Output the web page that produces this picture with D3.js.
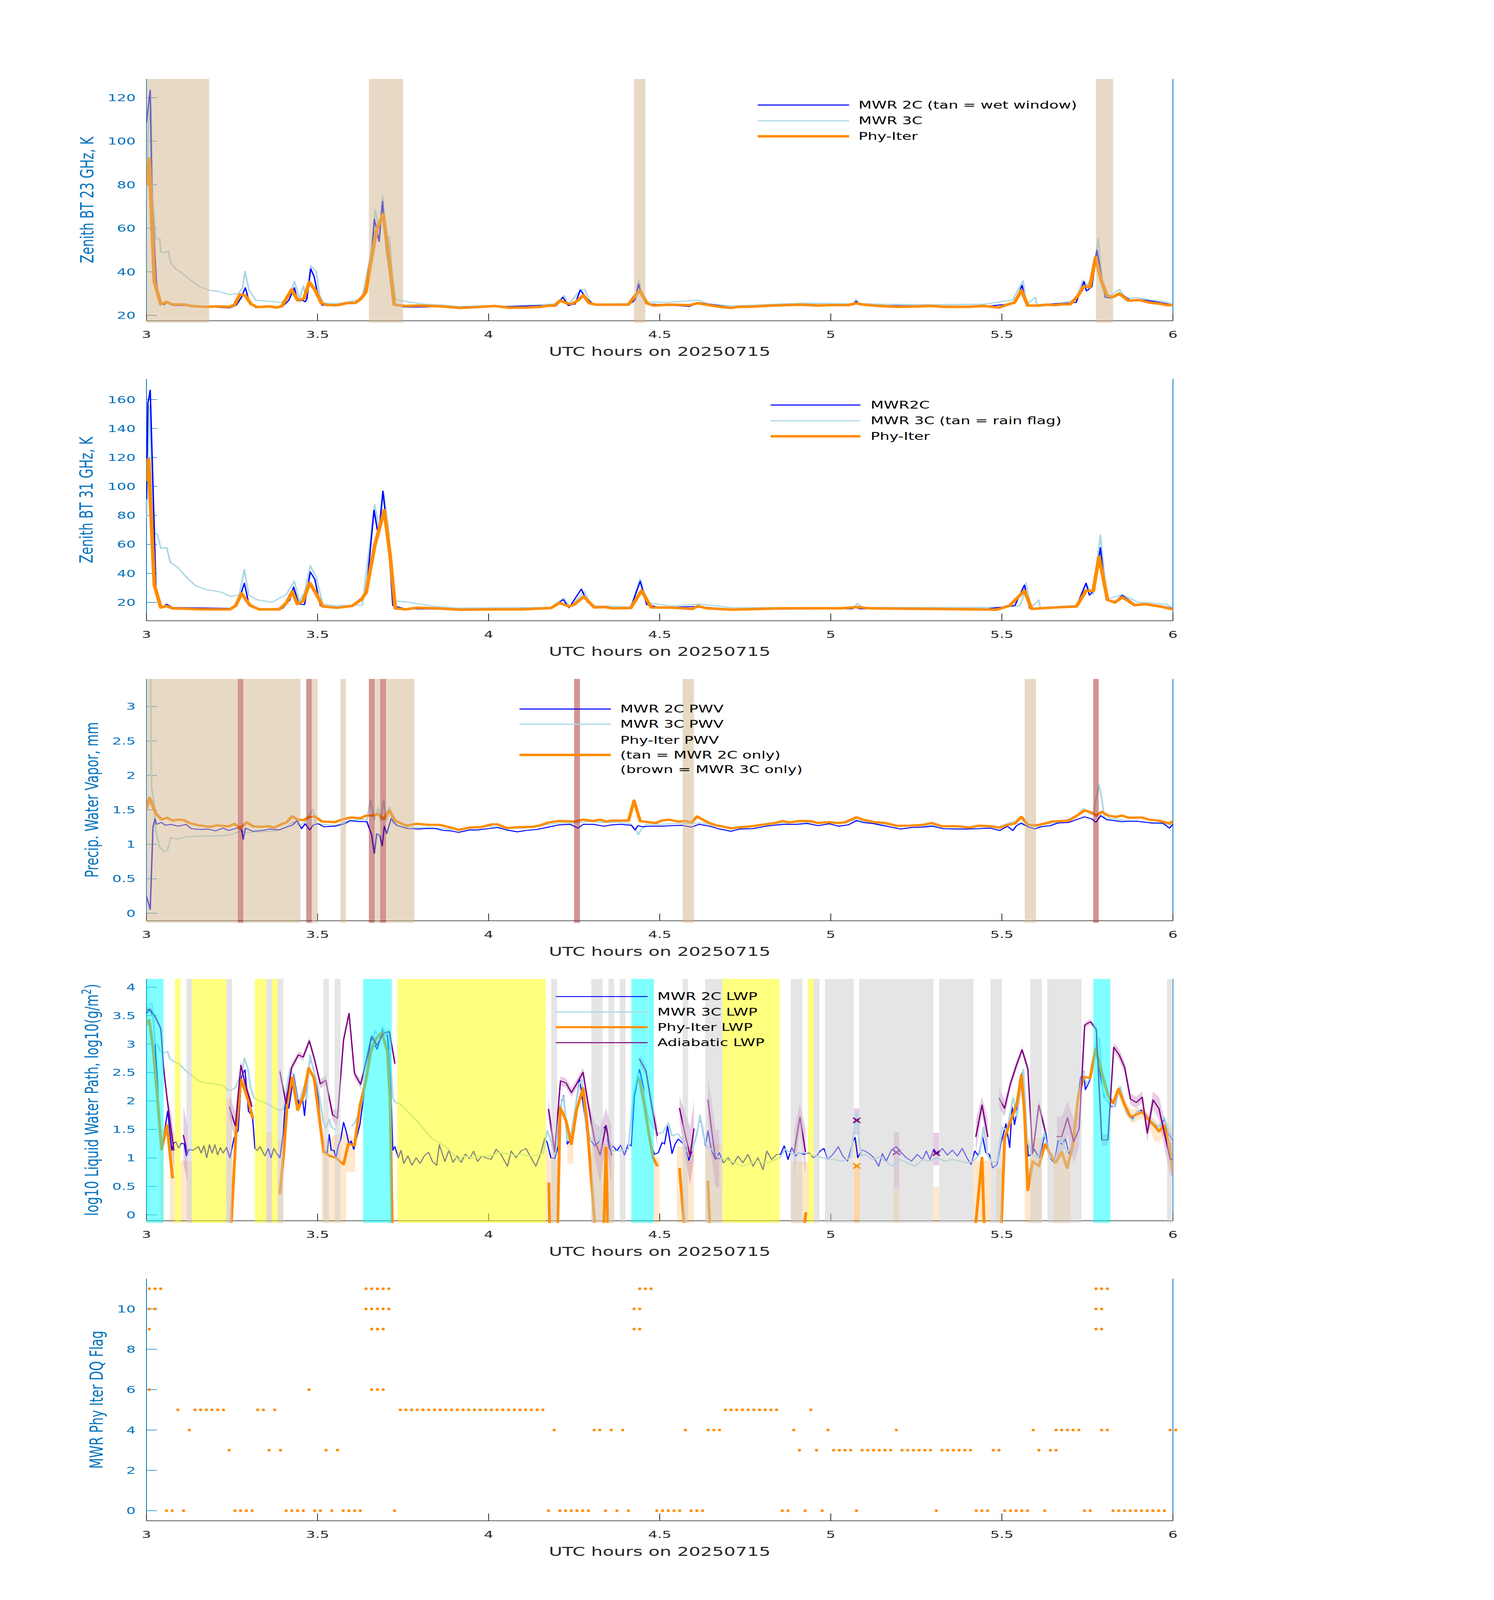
<!DOCTYPE html>
<html>
<head>
<meta charset="utf-8">
<script src="https://cdn.jsdelivr.net/npm/d3@7"></script>
<style>
html, body { margin: 0; padding: 0; background: #fff; overflow: hidden; }
svg { display: block; width: 100vw; height: 100vh; }
</style>
</head>
<body>
<script>
// ---------------- data (hours UTC, value) ----------------
const hourTicks = [3, 3.5, 4, 4.5, 5, 5.5, 6];

// panel 1: zenith BT 23 GHz (K)
const bt23Mwr2c = [[3.000,108.5],[3.011,123.5],[3.016,74],[3.029,35.2],[3.039,25.9],[3.051,24.9],[3.064,26.2],[3.080,24.5],[3.130,24.5],[3.182,23.8],[3.243,23.4],[3.263,24.7],[3.278,28.4],[3.289,32.7],[3.299,26.9],[3.319,23.6],[3.355,23.8],[3.396,23.8],[3.416,26.9],[3.432,32.7],[3.442,26.5],[3.457,26.9],[3.464,26.2],[3.469,27.6],[3.480,41.4],[3.490,37.9],[3.498,31.6],[3.513,24.7],[3.549,24.3],[3.585,25.9],[3.610,25.6],[3.636,30.0],[3.656,43.3],[3.666,64.2],[3.680,53.9],[3.690,72.4],[3.700,51.8],[3.712,38.0],[3.724,24.9],[3.753,23.8],[3.814,23.8],[3.865,24.1],[3.916,23.8],[3.998,24.3],[4.060,24.1],[4.151,24.5],[4.197,24.3],[4.217,28.3],[4.233,24.5],[4.253,25.2],[4.268,31.7],[4.283,28.4],[4.307,24.9],[4.408,24.7],[4.428,27.0],[4.438,34.4],[4.447,29.2],[4.464,25.3],[4.588,24.1],[4.614,25.9],[4.712,23.6],[4.916,24.9],[5.065,24.8],[5.074,26.5],[5.085,24.8],[5.142,24.5],[5.447,24.1],[5.537,25.4],[5.559,33.8],[5.572,24.5],[5.717,25.9],[5.740,35.5],[5.747,31.2],[5.763,33.1],[5.778,50.0],[5.802,28.3],[5.819,27.9],[5.843,30.4],[5.875,27.0],[5.909,27.2],[5.965,25.9],[6.000,24.7]];
const bt23Mwr3c = [[3.000,74],[3.006,108.5],[3.013,116],[3.018,74],[3.027,55.2],[3.039,55.2],[3.042,49.2],[3.054,48.8],[3.064,49.6],[3.071,44.1],[3.085,41.4],[3.105,39.3],[3.131,35.9],[3.156,33.2],[3.182,31.6],[3.212,31.0],[3.243,29.5],[3.268,30.0],[3.281,32.5],[3.288,40.2],[3.299,31.9],[3.319,27.0],[3.355,26.5],[3.396,25.9],[3.416,29.1],[3.433,35.5],[3.447,27.4],[3.459,33.6],[3.467,27.0],[3.480,42.8],[3.496,40.2],[3.506,29.1],[3.518,25.6],[3.559,25.4],[3.600,26.5],[3.630,27.4],[3.656,48.3],[3.669,68.5],[3.680,58.1],[3.690,75.0],[3.702,55.2],[3.710,56.0],[3.720,35.9],[3.728,27.4],[3.753,26.5],[3.814,25.1],[3.865,24.7],[3.916,24.0],[3.998,24.5],[4.060,24.1],[4.151,24.9],[4.197,25.3],[4.220,29.1],[4.233,24.9],[4.268,31.6],[4.281,32.0],[4.299,25.1],[4.408,25.4],[4.430,28.3],[4.439,36.2],[4.450,27.9],[4.466,26.2],[4.521,25.9],[4.614,27.0],[4.640,25.2],[4.712,24.3],[4.916,25.6],[5.065,25.3],[5.074,27.2],[5.085,25.4],[5.142,25.1],[5.300,24.9],[5.447,25.1],[5.531,27.0],[5.562,35.9],[5.572,24.9],[5.598,28.3],[5.602,24.9],[5.672,25.6],[5.717,27.2],[5.737,36.2],[5.750,33.6],[5.767,39.6],[5.782,55.2],[5.795,31.9],[5.812,28.3],[5.843,31.9],[5.863,27.9],[5.897,28.1],[5.937,27.0],[5.971,26.5],[6.000,25.3]];
const bt23PhyIter = [[3.000,80],[3.008,92],[3.023,35.5],[3.042,25.1],[3.059,26.2],[3.074,25.0],[3.110,25.0],[3.130,24.3],[3.171,23.9],[3.207,24.1],[3.243,23.9],[3.258,24.9],[3.273,29.6],[3.289,29.1],[3.306,25.1],[3.324,23.8],[3.360,24.1],[3.380,23.6],[3.396,24.3],[3.424,31.8],[3.442,26.9],[3.460,27.7],[3.476,35.3],[3.493,31.6],[3.511,25.6],[3.529,24.7],[3.559,24.7],[3.585,25.6],[3.610,25.7],[3.626,27.5],[3.641,30.6],[3.656,44.9],[3.673,59.5],[3.692,66.4],[3.707,48.3],[3.724,24.9],[3.758,24.3],[3.794,24.5],[3.865,24.1],[3.916,23.4],[3.967,23.8],[4.018,24.3],[4.060,23.5],[4.110,23.6],[4.151,23.9],[4.177,24.5],[4.192,24.4],[4.209,26.8],[4.228,25.6],[4.243,25.2],[4.258,26.5],[4.277,29.2],[4.294,25.6],[4.314,24.9],[4.352,24.9],[4.408,24.9],[4.425,28.4],[4.442,31.5],[4.462,25.6],[4.482,24.5],[4.527,24.9],[4.588,24.7],[4.611,25.6],[4.645,24.7],[4.668,24.1],[4.707,23.4],[4.730,23.9],[4.770,24.0],[4.826,24.5],[4.871,24.7],[4.916,24.9],[4.961,24.5],[4.995,24.7],[5.051,24.7],[5.074,25.6],[5.097,24.9],[5.142,24.3],[5.198,23.9],[5.255,24.1],[5.289,24.3],[5.334,23.9],[5.402,23.9],[5.447,24.3],[5.492,23.6],[5.515,24.9],[5.537,25.9],[5.557,31.5],[5.576,24.5],[5.610,24.5],[5.633,24.9],[5.655,24.7],[5.678,25.1],[5.700,25.1],[5.723,29.1],[5.740,33.4],[5.757,32.9],[5.774,46.6],[5.790,36.3],[5.807,29.1],[5.824,28.3],[5.843,30.0],[5.869,26.8],[5.903,27.0],[5.931,25.9],[5.965,25.3],[5.982,24.7],[6.000,24.7]];
const wetWindowSpans = [[3.0,3.183],[3.65,3.75],[4.425,4.458],[5.775,5.825]];

// panel 2: zenith BT 31 GHz (K)
const bt31Mwr2c = [[3.000,91.4],[3.004,157.2],[3.011,166.5],[3.017,117.2],[3.028,28.1],[3.044,16.3],[3.059,18.8],[3.076,16.5],[3.250,15.9],[3.271,21.7],[3.286,33.3],[3.299,19.1],[3.330,15.5],[3.398,15.9],[3.419,21.7],[3.430,30.7],[3.445,18.8],[3.462,18.5],[3.479,41.0],[3.492,35.9],[3.508,17.8],[3.557,15.9],[3.600,17.8],[3.642,25.5],[3.665,83.6],[3.678,65.5],[3.691,96.8],[3.706,65.5],[3.720,17.8],[3.758,15.5],[4.013,15.2],[4.182,16.3],[4.218,21.9],[4.235,16.3],[4.271,29.2],[4.288,20.4],[4.309,16.5],[4.415,15.9],[4.443,34.6],[4.462,18.5],[4.500,16.5],[4.606,17.2],[4.712,15.2],[5.062,15.6],[5.072,16.5],[5.085,15.6],[5.453,15.5],[5.538,17.8],[5.566,32.0],[5.581,15.9],[5.718,17.2],[5.746,33.3],[5.756,24.9],[5.771,28.8],[5.788,57.8],[5.805,21.7],[5.830,20.4],[5.852,24.9],[5.888,18.8],[5.962,17.8],[6.000,15.9]];
const bt31Mwr3c = [[3.000,78.5],[3.008,155.9],[3.015,117.2],[3.023,68.1],[3.032,66.8],[3.042,57.2],[3.059,57.8],[3.070,47.5],[3.091,44.3],[3.112,38.5],[3.144,31.4],[3.176,28.8],[3.218,27.1],[3.244,24.3],[3.271,24.9],[3.286,42.6],[3.299,24.9],[3.324,21.7],[3.367,20.1],[3.409,25.5],[3.432,34.8],[3.447,20.4],[3.462,26.8],[3.479,45.2],[3.496,37.2],[3.515,18.8],[3.547,17.8],[3.631,18.1],[3.667,87.5],[3.680,69.4],[3.693,95.5],[3.708,68.1],[3.722,21.0],[3.758,20.4],[3.843,17.2],[3.907,16.1],[4.013,16.3],[4.182,16.5],[4.220,23.0],[4.237,16.8],[4.280,27.5],[4.299,17.8],[4.415,16.8],[4.443,36.1],[4.464,19.7],[4.532,17.5],[4.617,18.8],[4.712,16.3],[5.068,16.5],[5.078,19.4],[5.093,16.5],[5.496,16.5],[5.552,17.6],[5.560,22.0],[5.570,33.3],[5.585,16.5],[5.608,21.7],[5.612,16.5],[5.718,17.8],[5.746,32.6],[5.767,25.5],[5.788,66.5],[5.807,22.3],[5.852,25.3],[5.898,20.1],[5.977,18.8],[6.000,16.5]];
const bt31PhyIter = [[3.000,104.3],[3.006,118.8],[3.023,32.0],[3.042,16.5],[3.059,17.5],[3.076,15.9],[3.165,15.2],[3.244,15.2],[3.261,17.8],[3.278,26.2],[3.303,17.8],[3.330,15.2],[3.388,15.2],[3.409,19.7],[3.426,27.5],[3.441,18.8],[3.458,21.0],[3.477,33.5],[3.494,26.8],[3.515,17.2],[3.557,16.3],[3.600,17.5],[3.627,21.7],[3.642,26.8],[3.667,59.1],[3.695,83.6],[3.712,52.6],[3.727,15.9],[3.758,15.2],[3.790,16.3],[3.843,15.9],[3.917,15.0],[4.013,15.2],[4.097,15.2],[4.182,16.1],[4.207,19.7],[4.235,17.2],[4.250,18.5],[4.278,24.0],[4.309,16.5],[4.341,16.8],[4.362,15.9],[4.415,16.1],[4.447,28.1],[4.475,16.5],[4.542,16.3],[4.595,15.5],[4.612,17.5],[4.638,15.9],[4.712,15.0],[4.860,15.9],[5.030,15.9],[5.078,16.8],[5.114,15.9],[5.284,15.5],[5.432,15.2],[5.485,15.0],[5.523,17.8],[5.566,28.1],[5.587,15.5],[5.655,16.5],[5.718,17.2],[5.746,28.1],[5.767,27.9],[5.784,51.4],[5.809,21.7],[5.830,20.0],[5.852,23.6],[5.888,18.1],[5.919,18.8],[5.962,17.2],[6.000,15.2]];

// panel 3: precipitable water vapour (mm)
const pwvMwr2c = [[3.000,0.244],[3.011,0.054],[3.019,1.249],[3.025,1.371],[3.029,1.29],[3.044,1.317],[3.055,1.276],[3.071,1.29],[3.093,1.263],[3.115,1.29],[3.131,1.227],[3.158,1.214],[3.180,1.222],[3.202,1.195],[3.224,1.235],[3.240,1.2],[3.265,1.235],[3.278,1.216],[3.283,1.072],[3.289,1.235],[3.311,1.189],[3.338,1.2],[3.360,1.222],[3.388,1.208],[3.409,1.249],[3.426,1.276],[3.440,1.344],[3.453,1.227],[3.464,1.298],[3.477,1.208],[3.488,1.282],[3.502,1.298],[3.519,1.254],[3.551,1.263],[3.579,1.298],[3.595,1.344],[3.622,1.33],[3.644,1.33],[3.658,1.14],[3.666,0.869],[3.673,1.154],[3.682,1.127],[3.689,0.977],[3.695,1.263],[3.702,1.154],[3.715,1.371],[3.731,1.276],[3.764,1.227],[3.797,1.222],[3.824,1.23],[3.846,1.227],[3.868,1.2],[3.890,1.195],[3.912,1.173],[3.944,1.208],[3.966,1.208],[3.999,1.227],[4.026,1.244],[4.053,1.208],[4.084,1.181],[4.108,1.2],[4.141,1.216],[4.174,1.249],[4.206,1.282],[4.239,1.29],[4.261,1.235],[4.277,1.29],[4.305,1.29],[4.338,1.263],[4.359,1.282],[4.386,1.29],[4.417,1.276],[4.428,1.208],[4.437,1.271],[4.450,1.254],[4.472,1.263],[4.505,1.263],[4.538,1.271],[4.565,1.276],[4.593,1.249],[4.615,1.29],[4.647,1.263],[4.674,1.222],[4.691,1.208],[4.708,1.189],[4.734,1.222],[4.772,1.227],[4.811,1.263],[4.844,1.282],[4.866,1.29],[4.899,1.29],[4.931,1.303],[4.963,1.271],[4.996,1.298],[5.023,1.263],[5.051,1.282],[5.075,1.344],[5.094,1.317],[5.122,1.303],[5.149,1.276],[5.182,1.244],[5.204,1.222],[5.237,1.244],[5.269,1.249],[5.297,1.263],[5.329,1.227],[5.362,1.222],[5.400,1.222],[5.433,1.227],[5.466,1.235],[5.494,1.2],[5.516,1.263],[5.532,1.2],[5.543,1.271],[5.557,1.309],[5.576,1.254],[5.596,1.222],[5.614,1.254],[5.642,1.271],[5.664,1.309],[5.696,1.317],[5.718,1.358],[5.741,1.398],[5.762,1.371],[5.775,1.317],[5.789,1.417],[5.806,1.358],[5.828,1.344],[5.850,1.33],[5.894,1.336],[5.937,1.309],[5.970,1.309],[5.990,1.235],[6.000,1.29]];
const pwvMwr3c = [[3.000,3.6],[3.012,3.4],[3.015,1.82],[3.022,1.6],[3.027,1.195],[3.038,0.964],[3.051,0.891],[3.062,0.923],[3.071,1.1],[3.087,1.072],[3.115,1.108],[3.158,1.119],[3.202,1.119],[3.246,1.14],[3.278,1.195],[3.289,1.173],[3.333,1.181],[3.377,1.195],[3.409,1.249],[3.429,1.33],[3.448,1.263],[3.464,1.33],[3.478,1.444],[3.486,1.507],[3.495,1.303],[3.513,1.29],[3.551,1.271],[3.584,1.33],[3.617,1.358],[3.644,1.358],[3.655,1.643],[3.666,1.358],[3.677,1.534],[3.684,1.344],[3.693,1.643],[3.702,1.344],[3.710,1.542],[3.721,1.303],[3.748,1.249],[3.791,1.244],[3.835,1.244],[3.890,1.216],[3.944,1.227],[3.999,1.263],[4.053,1.235],[4.108,1.235],[4.163,1.282],[4.206,1.309],[4.250,1.309],[4.294,1.33],[4.338,1.317],[4.381,1.317],[4.414,1.303],[4.430,1.208],[4.438,1.14],[4.445,1.208],[4.461,1.29],[4.505,1.29],[4.560,1.303],[4.593,1.309],[4.625,1.309],[4.669,1.263],[4.713,1.244],[4.778,1.271],[4.844,1.303],[4.909,1.322],[4.974,1.309],[5.040,1.309],[5.073,1.358],[5.106,1.317],[5.171,1.282],[5.237,1.263],[5.302,1.271],[5.368,1.249],[5.433,1.254],[5.488,1.249],[5.532,1.33],[5.554,1.29],[5.587,1.244],[5.630,1.29],[5.674,1.33],[5.718,1.412],[5.738,1.52],[5.757,1.439],[5.768,1.439],[5.775,1.656],[5.784,1.86],[5.792,1.656],[5.800,1.385],[5.828,1.371],[5.871,1.344],[5.926,1.317],[5.970,1.303],[6.000,1.276]];
const pwvPhyIter = [[3.000,1.52],[3.009,1.675],[3.027,1.45],[3.044,1.36],[3.060,1.385],[3.076,1.344],[3.093,1.358],[3.109,1.352],[3.126,1.309],[3.153,1.276],[3.186,1.254],[3.207,1.276],[3.240,1.26],[3.257,1.298],[3.273,1.235],[3.293,1.317],[3.311,1.263],[3.333,1.254],[3.355,1.263],[3.374,1.244],[3.393,1.29],[3.409,1.317],[3.426,1.406],[3.442,1.358],[3.459,1.35],[3.475,1.396],[3.492,1.406],[3.513,1.33],[3.551,1.322],[3.573,1.363],[3.600,1.39],[3.626,1.379],[3.642,1.417],[3.660,1.417],[3.677,1.439],[3.693,1.363],[3.710,1.493],[3.726,1.344],[3.759,1.271],[3.791,1.298],[3.824,1.282],[3.857,1.282],[3.890,1.244],[3.912,1.208],[3.944,1.244],[3.977,1.249],[4.010,1.29],[4.026,1.29],[4.053,1.235],[4.086,1.249],[4.130,1.254],[4.152,1.276],[4.174,1.317],[4.206,1.339],[4.250,1.33],[4.277,1.358],[4.305,1.339],[4.326,1.358],[4.343,1.33],[4.359,1.344],[4.409,1.344],[4.425,1.635],[4.443,1.336],[4.467,1.322],[4.489,1.309],[4.505,1.344],[4.527,1.358],[4.554,1.33],[4.576,1.339],[4.593,1.317],[4.609,1.404],[4.636,1.33],[4.663,1.276],[4.689,1.254],[4.710,1.23],[4.734,1.249],[4.761,1.257],[4.800,1.284],[4.838,1.309],[4.860,1.339],[4.878,1.317],[4.909,1.339],[4.942,1.336],[4.963,1.309],[4.996,1.322],[5.018,1.309],[5.040,1.317],[5.075,1.393],[5.094,1.358],[5.127,1.322],[5.160,1.309],[5.193,1.268],[5.231,1.271],[5.269,1.282],[5.295,1.309],[5.324,1.263],[5.368,1.263],[5.406,1.244],[5.434,1.271],[5.467,1.263],[5.494,1.241],[5.516,1.282],[5.538,1.303],[5.557,1.398],[5.576,1.282],[5.603,1.276],[5.647,1.33],[5.696,1.344],[5.718,1.412],[5.743,1.493],[5.762,1.461],[5.776,1.417],[5.792,1.472],[5.811,1.417],[5.833,1.398],[5.851,1.417],[5.871,1.385],[5.909,1.39],[5.931,1.358],[5.958,1.344],[5.991,1.303],[6.000,1.336]];
const mwr2cOnlySpans = [[3.0,3.267],[3.283,3.45],[3.483,3.5],[3.567,3.583],[3.667,3.683],[3.7,3.783],[4.567,4.6],[5.567,5.6]];
const mwr3cOnlySpans = [[3.267,3.283],[3.467,3.483],[3.65,3.667],[3.683,3.7],[4.25,4.267],[5.767,5.783]];

// panel 4: log10 liquid water path (null = gap)
const lwpMwr2c = [[3.000,3.533],[3.010,3.615],[3.020,3.468],[3.032,2.383],[3.040,1.331],[3.044,1.134],[3.062,1.824],[3.074,1.134],[3.080,1.265],[3.086,1.282],[3.094,1.173],[3.102,1.259],[3.110,1.249],[3.117,1.035],[3.124,1.15],[3.136,1.134],[3.144,1.167],[3.152,1.2],[3.160,1.085],[3.168,1.216],[3.176,1.002],[3.184,1.233],[3.192,1.085],[3.200,1.233],[3.208,1.052],[3.216,1.183],[3.224,1.085],[3.234,1.183],[3.244,1.002],[3.256,1.348],[3.268,1.479],[3.278,2.449],[3.288,2.547],[3.298,1.824],[3.310,1.726],[3.317,1.167],[3.324,1.134],[3.332,1.2],[3.340,1.101],[3.346,1.035],[3.356,1.167],[3.364,1.002],[3.372,1.167],[3.380,1.085],[3.390,1.002],[3.400,1.446],[3.408,2.186],[3.416,1.873],[3.424,2.186],[3.430,2.465],[3.438,2.186],[3.446,1.923],[3.454,2.153],[3.462,1.742],[3.468,2.153],[3.478,2.744],[3.488,2.58],[3.500,2.186],[3.512,1.397],[3.520,1.118],[3.528,1.085],[3.534,1.413],[3.540,1.134],[3.548,1.134],[3.554,1.002],[3.560,1.2],[3.568,1.331],[3.576,1.627],[3.584,1.463],[3.592,1.233],[3.598,1.298],[3.606,1.15],[3.616,1.397],[3.624,1.594],[3.640,2.317],[3.656,3.106],[3.674,2.909],[3.692,3.27],[3.704,3.139],[3.712,2.646],[3.720,1.134],[3.726,1.2],[3.736,1.002],[3.744,1.134],[3.752,0.904],[3.764,1.035],[3.776,0.871],[3.788,1.002],[3.800,0.904],[3.812,1.035],[3.824,1.101],[3.836,0.937],[3.848,0.871],[3.856,1.233],[3.864,1.085],[3.872,0.937],[3.884,1.134],[3.896,0.92],[3.908,1.035],[3.920,0.92],[3.932,1.068],[3.944,0.986],[3.956,1.118],[3.968,0.937],[3.980,1.035],[3.992,1.002],[4.007,0.973],[4.022,1.152],[4.036,1.062],[4.055,0.853],[4.066,1.122],[4.080,1.003],[4.095,1.122],[4.109,1.167],[4.124,1.003],[4.138,0.853],[4.153,1.092],[4.164,1.346],[4.171,1.272],[4.182,1.003],[4.193,0.988],[4.200,1.122],[4.209,1.9],[4.219,2.094],[4.230,1.242],[4.237,1.302],[4.246,1.421],[4.255,1.959],[4.266,2.377],[4.276,1.959],[4.288,1.421],[4.299,1.302],[4.310,1.212],[4.321,1.272],[4.332,1.481],[4.343,1.571],[4.353,1.152],[4.364,1.212],[4.375,1.122],[4.386,1.227],[4.397,1.048],[4.408,1.242],[4.417,1.212],[4.426,2.079],[4.441,2.557],[4.452,2.258],[4.463,1.66],[4.474,1.242],[4.485,1.062],[4.496,1.092],[4.507,1.272],[4.514,1.242],[4.523,1.556],[4.536,1.077],[4.545,1.242],[4.554,1.332],[4.565,1.272],[4.576,1.182],[4.585,0.958],[4.594,1.122],[4.605,1.332],[4.616,1.66],[4.623,1.6],[4.634,1.212],[4.641,1.481],[4.650,1.152],[4.663,0.973],[4.674,1.092],[4.686,0.913],[4.700,1.003],[4.714,0.883],[4.729,1.033],[4.743,0.913],[4.758,1.062],[4.773,0.853],[4.787,1.003],[4.802,0.793],[4.813,1.122],[4.827,0.973],[4.842,1.062],[4.853,1.062],[4.864,1.212],[4.875,0.973],[4.886,1.182],[4.897,1.033],[4.907,1.092],[4.922,1.062],[4.937,1.092],[4.948,1.003],[4.958,1.033],[4.969,1.122],[4.980,1.167],[4.991,0.973],[5.006,1.062],[5.022,1.197],[5.035,1.033],[5.049,0.943],[5.064,1.272],[5.071,1.362],[5.079,1.003],[5.090,1.137],[5.100,1.122],[5.115,1.062],[5.126,1.003],[5.140,0.853],[5.151,1.077],[5.162,0.943],[5.177,1.137],[5.191,1.197],[5.206,1.092],[5.221,1.003],[5.236,0.943],[5.253,1.062],[5.268,0.973],[5.279,1.122],[5.290,0.973],[5.301,1.152],[5.311,1.062],[5.326,1.167],[5.341,1.048],[5.355,1.137],[5.370,1.033],[5.384,1.167],[5.399,0.988],[5.410,0.883],[5.421,1.122],[5.432,1.033],[5.443,1.391],[5.453,1.092],[5.464,1.062],[5.473,0.823],[5.486,0.883],[5.497,1.242],[5.512,1.6],[5.523,1.182],[5.530,1.9],[5.537,1.585],[5.544,1.81],[5.552,2.377],[5.560,2.497],[5.570,1.6],[5.577,1.033],[5.588,1.062],[5.595,1.152],[5.603,1.062],[5.610,1.003],[5.621,1.302],[5.628,1.451],[5.639,1.003],[5.654,0.913],[5.664,1.302],[5.675,1.242],[5.686,1.332],[5.697,1.062],[5.708,1.302],[5.719,1.9],[5.730,2.407],[5.739,2.527],[5.744,2.198],[5.756,2.347],[5.766,2.616],[5.777,2.945],[5.788,2.437],[5.799,2.079],[5.810,1.99],[5.821,1.9],[5.830,1.9],[5.843,2.198],[5.854,2.049],[5.868,1.81],[5.883,1.69],[5.894,1.81],[5.908,1.84],[5.923,1.75],[5.941,1.6],[5.959,1.541],[5.975,1.69],[5.988,1.421],[6.000,1.302]];
const lwpMwr3c = [[3.000,3.665],[3.010,3.698],[3.016,3.73],[3.024,3.007],[3.032,3.007],[3.040,2.876],[3.052,2.843],[3.062,2.87],[3.068,2.744],[3.080,2.695],[3.096,2.646],[3.112,2.547],[3.136,2.432],[3.152,2.35],[3.176,2.317],[3.200,2.301],[3.224,2.268],[3.236,2.202],[3.248,2.186],[3.260,2.235],[3.272,2.416],[3.280,2.498],[3.286,2.754],[3.296,2.58],[3.304,2.251],[3.314,2.054],[3.328,2.005],[3.352,1.956],[3.376,1.873],[3.390,1.841],[3.400,1.857],[3.412,2.317],[3.420,2.58],[3.428,2.449],[3.440,2.054],[3.448,2.021],[3.460,2.251],[3.468,2.021],[3.478,2.81],[3.488,2.547],[3.500,2.284],[3.508,1.989],[3.516,1.66],[3.524,1.528],[3.534,1.676],[3.540,1.545],[3.552,1.495],null,[3.600,1.561],[3.608,1.61],[3.624,1.824],[3.640,2.317],[3.656,2.909],[3.668,3.237],[3.680,3.106],[3.690,3.303],[3.700,3.172],[3.708,3.205],[3.714,2.646],[3.720,2.054],[3.728,1.972],[3.740,1.956],[3.760,1.841],[3.784,1.693],[3.808,1.528],[3.832,1.348],[3.856,1.265],[3.880,1.167],[3.896,1.068],[3.912,0.953],[3.928,1.035],[3.952,1.002],[3.976,1.035],[4.007,1.033],[4.029,1.092],[4.051,1.077],[4.073,1.048],[4.095,1.062],[4.117,1.033],[4.138,1.048],[4.160,1.077],[4.171,1.481],[4.182,1.302],[4.193,1.062],[4.204,1.332],[4.213,2.019],[4.220,2.079],[4.230,1.302],[4.241,1.421],[4.254,1.9],[4.266,2.318],[4.273,2.377],[4.284,1.6],[4.299,1.302],[4.321,1.302],[4.335,1.511],[4.346,1.421],[4.361,1.122],[4.386,1.122],[4.408,1.152],[4.423,2.109],[4.437,2.497],[4.452,2.168],[4.466,1.72],[4.481,1.541],[4.496,1.421],[4.510,1.451],[4.525,1.615],[4.536,1.391],[4.554,1.421],[4.565,1.332],[4.576,1.122],[4.594,1.122],[4.609,1.421],[4.618,1.75],[4.627,1.421],[4.638,1.182],[4.652,1.152],[4.671,1.003],[4.707,0.943],[4.743,0.853],[4.780,0.943],[4.816,0.913],[4.851,1.003],[4.867,1.152],[4.889,1.062],[4.918,1.092],[4.948,1.048],[4.977,1.003],[5.006,0.973],[5.035,0.943],[5.057,1.003],[5.068,1.451],[5.075,1.81],[5.082,1.332],[5.090,1.033],[5.100,1.062],[5.122,0.973],[5.144,1.018],[5.166,0.913],[5.180,0.853],[5.202,0.973],[5.224,0.913],[5.246,0.853],[5.268,0.973],[5.290,0.943],[5.311,1.003],[5.333,0.943],[5.355,0.973],[5.377,0.943],[5.399,0.913],[5.417,0.943],[5.435,1.062],[5.446,1.541],[5.457,1.062],[5.472,0.913],[5.486,0.943],[5.501,1.541],[5.515,1.481],[5.533,2.064],[5.544,1.72],[5.555,2.198],[5.563,2.557],[5.574,1.302],[5.588,1.062],[5.606,1.003],[5.624,1.451],[5.639,1.003],[5.657,0.973],[5.672,1.362],[5.690,1.092],[5.708,1.242],[5.719,1.84],[5.737,2.527],[5.748,2.288],[5.763,2.497],[5.777,3.124],[5.785,3.094],[5.795,2.198],[5.805,2.019],[5.817,1.929],[5.828,1.9],[5.846,2.258],[5.865,1.78],[5.883,1.66],[5.897,1.84],[5.916,1.78],[5.937,1.66],[5.959,1.541],[5.974,1.72],[5.988,1.451],[6.000,1.332]];
const lwpPhyIter = [[3.000,3.336],[3.008,3.428],[3.020,2.876],[3.032,2.054],[3.044,1.15],[3.060,1.578],[3.076,0.657],null,[3.248,-0.13],[3.262,1.463],[3.276,2.383],[3.288,2.186],[3.300,1.956],[3.310,1.709],null,[3.390,0.378],[3.400,1.002],[3.412,1.989],[3.426,2.416],[3.442,1.841],[3.458,2.071],[3.474,2.58],[3.490,2.399],[3.504,1.758],[3.518,1.101],[3.536,1.035],[3.554,1.002],[3.566,0.937],[3.576,0.887],[3.590,1.249],[3.608,1.216],[3.624,1.923],[3.640,2.317],[3.656,2.876],[3.672,3.106],[3.688,3.205],[3.704,2.876],[3.712,2.021],[3.718,-0.13],null,[4.176,0.554],[4.178,-0.13],null,[4.202,-0.13],[4.209,1.884],[4.226,1.66],[4.242,1.242],[4.257,1.84],[4.276,2.228],[4.288,1.6],[4.299,0.704],[4.310,-0.13],null,[4.337,-0.13],[4.343,1.182],[4.348,-0.13],null,[4.441,2.377],[4.456,1.9],[4.470,1.362],[4.481,1.003],[4.492,0.868],null,[4.558,0.808],[4.571,-0.13],null,[4.641,0.584],[4.646,-0.13],null,[4.924,-0.13],[4.927,0.031],null,[5.424,-0.13],[5.442,1.003],[5.448,-0.13],null,[5.499,-0.13],[5.508,1.346],[5.528,1.69],[5.544,1.959],[5.557,2.452],[5.566,1.81],[5.576,0.435],[5.590,0.943],[5.608,0.853],[5.626,1.242],[5.657,0.913],[5.675,1.107],[5.691,0.823],[5.708,1.242],[5.723,2.079],[5.739,2.422],[5.758,2.407],[5.774,2.916],[5.792,2.497],[5.810,2.109],[5.825,1.959],[5.841,2.213],[5.859,1.929],[5.876,1.72],[5.894,1.765],[5.911,1.81],[5.930,1.66],[5.945,1.57],[5.959,1.466],[5.974,1.57],[5.988,1.272],[6.000,0.75]];
// Phy-Iter uncertainty: [hour, low, high]
const lwpPhyIterBand = [[3.038,-0.2,1.5],[3.050,-0.2,1.5],null,[3.068,-0.2,1.43],[3.083,-0.2,1.43],null,[3.100,-0.2,0.95],[3.133,-0.2,0.95],null,[3.233,-0.2,2.05],[3.250,-0.2,2.05],null,[3.350,-0.2,1.45],[3.367,-0.2,1.45],null,[3.383,-0.2,1.3],[3.400,-0.2,1.3],null,[3.512,-0.2,1.3],[3.550,-0.2,1.4],[3.583,-0.2,1.45],[3.584,0.75,1.45],[3.610,0.75,1.3],null,[4.167,-0.2,1.17],[4.200,-0.2,1.05],null,[4.230,0.9,1.3],[4.248,0.9,1.3],null,[4.300,-0.2,1.25],[4.367,-0.2,1.25],null,[4.483,-0.2,1.0],[4.500,-0.2,1.0],null,[4.550,-0.2,1.2],[4.600,-0.2,1.2],null,[4.633,-0.2,1.25],[4.683,-0.2,1.25],null,[4.883,-0.2,0.93],[4.935,-0.2,0.93],null,[5.067,-0.2,1.35],[5.083,-0.2,1.35],null,[5.183,-0.2,0.49],[5.200,-0.2,0.49],null,[5.300,-0.2,0.49],[5.317,-0.2,0.49],null,[5.417,-0.2,0.95],[5.467,-0.2,0.95],null,[5.483,-0.2,0.83],[5.500,-0.2,0.83],null,[5.567,-0.2,1.35],[5.617,-0.2,1.35],null,[5.650,-0.2,1.1],[5.700,-0.2,1.1],null,[5.840,2.1,2.3],[5.860,1.8,2.0],[5.880,1.6,1.85],[5.910,1.7,1.9],[5.930,1.55,1.75],[5.945,1.3,1.7],[5.960,1.27,1.6],[5.975,1.4,1.7],[5.990,1.0,1.55],[6.000,0.6,1.5]];
// adiabatic LWP: [hour, value, half-width of shaded range]
const lwpAdiabatic = [[3.000,3.599,0.05],[3.010,3.615,0.05],[3.028,3.451,0.05],[3.042,3.27,0.05],[3.050,2.58,0.06],[3.060,2.054,0.06],[3.072,1.495,0.3],[3.080,1.134,0.3],null,[3.108,1.397,0.5],[3.120,1.068,0.5],null,[3.242,1.896,0.2],[3.260,1.561,0.25],[3.276,2.629,0.08],[3.288,2.317,0.08],[3.308,1.906,0.1],null,[3.390,2.514,0.1],[3.408,1.956,0.1],[3.424,2.586,0.08],[3.444,2.81,0.06],[3.458,2.771,0.06],[3.476,3.057,0.06],[3.492,2.711,0.06],[3.508,2.301,0.08],[3.524,2.367,0.08],[3.544,1.758,0.1],[3.558,1.693,0.15],[3.576,3.073,0.06],[3.592,3.54,0.05],[3.608,2.482,0.07],[3.626,2.291,0.08],[3.640,2.646,0.06],[3.658,3.139,0.05],[3.674,2.975,0.05],[3.692,3.188,0.05],[3.710,3.221,0.05],[3.726,2.662,0.1],null,[4.175,1.855,0.18],[4.193,1.107,0.15],[4.210,2.354,0.08],[4.226,2.318,0.08],[4.242,2.148,0.08],[4.259,2.318,0.08],[4.276,2.506,0.08],[4.292,1.9,0.1],[4.310,1.302,0.3],[4.326,1.048,0.5],[4.343,1.571,0.3],[4.359,1.048,0.5],null,[4.441,2.736,0.1],[4.460,2.527,0.1],[4.477,1.9,0.15],[4.493,1.391,0.2],null,[4.558,1.87,0.2],[4.574,1.421,0.4],[4.589,1.033,0.5],[4.600,1.511,0.5],null,[4.641,2.019,0.4],[4.652,1.481,0.5],[4.663,0.988,0.5],[4.674,0.988,0.5],null,[4.893,1.107,0.4],[4.910,1.72,0.25],[4.926,1.107,0.4],null,[5.424,1.376,0.3],[5.442,1.929,0.15],[5.459,1.376,0.3],null,[5.492,2.049,0.18],[5.508,1.87,0.15],[5.525,2.303,0.08],[5.542,2.616,0.08],[5.559,2.9,0.06],[5.576,2.566,0.08],[5.590,1.077,0.1],[5.608,1.929,0.1],[5.627,1.466,0.1],null,[5.661,1.376,0.35],[5.675,1.376,0.35],[5.692,1.705,0.3],[5.710,1.287,0.4],[5.726,1.511,0.3],[5.742,3.334,0.05],[5.759,3.393,0.05],[5.776,3.259,0.05],[5.792,1.317,0.1],[5.810,1.317,0.1],[5.827,2.945,0.08],[5.843,2.811,0.1],[5.859,2.587,0.1],[5.876,2.034,0.1],[5.893,1.974,0.1],[5.910,2.068,0.1],[5.925,1.436,0.15],[5.942,2.019,0.15],[5.959,1.87,0.2],[5.975,1.436,0.25],[5.992,0.973,0.3],[6.000,0.973,0.3]];
// isolated single points (x markers): [hour, value, low, high]
const adiabaticSingles = [[5.076,1.66,1.40,1.87],[5.192,1.098,0.49,1.45],[5.308,1.083,0.87,1.44]];
const phyIterSingles = [[5.076,0.859]];
const cyanSpans = [[3.0,3.05],[3.633,3.717],[4.417,4.483],[5.767,5.817]];
const yellowSpans = [[3.083,3.1],[3.133,3.233],[3.317,3.35],[3.367,3.383],[3.733,4.167],[4.683,4.85],[4.933,4.95]];
const graySpans = [[3.117,3.133],[3.233,3.25],[3.35,3.367],[3.383,3.4],[3.517,3.533],[3.55,3.567],[4.183,4.2],[4.3,4.333],[4.35,4.367],[4.383,4.4],[4.567,4.583],[4.633,4.683],[4.883,4.917],[4.95,4.967],[4.983,5.067],[5.083,5.3],[5.317,5.417],[5.467,5.5],[5.583,5.617],[5.633,5.733],[5.983,6.0]];

// panel 5: DQ flag values and the minute (after 03:00) at which each occurs
const dqFlagValues = [0, 3, 4, 5, 6, 9, 10, 11];
const dqFlagMinutes = [
  [3,4,6,15,16,17,18,24,25,26,27,29,30,32,34,35,36,37,43,70,72,73,74,75,76,77,80,82,84,89,90,91,92,93,95,96,97,111,112,115,118,124,138,145,146,147,150,151,152,153,154,157,164,165,169,170,171,172,173,174,175,176,177,178],
  [14,21,23,31,33,114,117,120,121,122,123,125,126,127,128,129,130,132,133,134,135,136,137,139,140,141,142,143,144,148,149,156,158,159],
  [7,71,78,79,81,83,94,98,99,100,113,119,131,155,159,160,161,162,163,167,168,179,180],
  [5,8,9,10,11,12,13,19,20,22,44,45,46,47,48,49,50,51,52,53,54,55,56,57,58,59,60,61,62,63,64,65,66,67,68,69,101,102,103,104,105,106,107,108,109,110,116],
  [0,28,39,40,41],
  [0,39,40,41,85,86,166,167],
  [0,1,38,39,40,41,42,85,86,166,167],
  [0,1,2,38,39,40,41,42,86,87,88,166,167,168]
];

// ---------------- drawing ----------------
const W = 3825, H = 6000;
const axisBlue = "#0072BD", axisDark = "#262626";
const left = 375, right = 3003;

// drawn in a 3825x6000 coordinate system that is stretched to the window
let svg = d3.select("body").append("svg")
    .attr("viewBox", "0 0 " + W + " " + H)
    .attr("preserveAspectRatio", "none")
    .style("font-family", "'DejaVu Sans', sans-serif");

svg.append("rect").attr("width", W).attr("height", H).attr("fill", "#fff");

let x = d3.scaleLinear().domain([3, 6]).range([left, right]);
let clipCount = 0;

// axes frame, ticks and labels for one panel; returns y scale and layers
function makePanel(top, bottom, domain, ticks, labelParts, labelX) {
    let y = d3.scaleLinear().domain(domain).range([bottom, top]);
    let g = svg.append("g");
    let id = "clip" + (clipCount++);
    svg.append("clipPath").attr("id", id)
        .append("rect").attr("x", left).attr("y", top)
        .attr("width", right - left).attr("height", bottom - top + 8);

    // left axis + ticks pointing inwards
    g.append("line").attr("x1", left).attr("x2", left).attr("y1", top).attr("y2", bottom)
        .attr("stroke", axisBlue).attr("stroke-width", 2);
    ticks.forEach(function (v) {
        g.append("line").attr("x1", left).attr("x2", left + 27).attr("y1", y(v)).attr("y2", y(v))
            .attr("stroke", axisBlue).attr("stroke-width", 2);
        g.append("text").attr("x", left - 28).attr("y", y(v))
            .attr("text-anchor", "end").attr("dominant-baseline", "central")
            .attr("font-size", 37.5).attr("fill", axisBlue).text(v);
    });
    // right axis line
    g.append("line").attr("x1", right).attr("x2", right).attr("y1", top).attr("y2", bottom)
        .attr("stroke", axisBlue).attr("stroke-width", 2);
    // bottom axis
    g.append("line").attr("x1", left).attr("x2", right).attr("y1", bottom).attr("y2", bottom)
        .attr("stroke", axisDark).attr("stroke-width", 2);
    hourTicks.forEach(function (t) {
        g.append("line").attr("x1", x(t)).attr("x2", x(t)).attr("y1", bottom).attr("y2", bottom - 27)
            .attr("stroke", axisDark).attr("stroke-width", 2);
        g.append("text").attr("x", x(t)).attr("y", bottom + 64)
            .attr("text-anchor", "middle").attr("font-size", 37.5).attr("fill", axisDark).text(t);
    });
    g.append("text").attr("x", (left + right) / 2).attr("y", bottom + 131)
        .attr("text-anchor", "middle").attr("font-size", 47).attr("fill", axisDark)
        .text("UTC hours on 20250715");

    // rotated y label (may include a superscript)
    let lab = g.append("text")
        .attr("transform", "translate(" + labelX + "," + ((top + bottom) / 2) + ") rotate(-90)")
        .attr("text-anchor", "middle").attr("font-size", 47).attr("fill", axisBlue);
    labelParts.forEach(function (p) {
        let ts = lab.append("tspan").text(p.text);
        if (p.sup) ts.attr("font-size", 33).attr("dy", -18);
        if (p.after) ts.attr("dy", 18);
    });

    let data = svg.append("g").attr("clip-path", "url(#" + id + ")");
    let legend = svg.append("g");
    return { y: y, data: data, legend: legend, top: top, bottom: bottom };
}

function drawLine(p, series, color, width) {
    p.data.append("path").datum(series)
        .attr("d", d3.line().defined(d => d !== null).x(d => x(d[0])).y(d => p.y(d[1])))
        .attr("fill", "none").attr("stroke", color).attr("stroke-width", width)
        .attr("stroke-linejoin", "round").attr("stroke-linecap", "round");
}

function drawSpans(p, spans, color, opacity) {
    p.data.selectAll(null).data(spans).enter().append("rect")
        .attr("x", d => x(d[0])).attr("width", d => x(d[1]) - x(d[0]))
        .attr("y", p.top).attr("height", p.bottom - p.top + 8)
        .attr("fill", color).attr("opacity", opacity);
}

function drawLegend(p, entries, x1, x2, tx) {
    entries.forEach(function (e) {
        if (e.color) {
            p.legend.append("line").attr("x1", x1).attr("x2", x2).attr("y1", e.row).attr("y2", e.row)
                .attr("stroke", e.color).attr("stroke-width", e.width);
        }
        e.lines.forEach(function (l) {
            p.legend.append("text").attr("x", tx).attr("y", l[1])
                .attr("dominant-baseline", "central").attr("font-size", 39).attr("fill", "#000").text(l[0]);
        });
    });
}

// ---- panel 1
let p1 = makePanel(296, 1203, [17.5, 128.6], [20, 40, 60, 80, 100, 120],
    [{ text: "Zenith BT 23 GHz, K" }], 239);
drawLine(p1, bt23Mwr3c, "#ADD8E6", 4.5);
drawLine(p1, bt23Mwr2c, "#0000FF", 3.5);
drawLine(p1, bt23PhyIter, "#FF8C00", 9.5);
drawSpans(p1, wetWindowSpans, "#D2B48C", 0.5);
drawLegend(p1, [
    { color: "#0000FF", width: 4, row: 394, lines: [["MWR 2C (tan = wet window)", 394]] },
    { color: "#ADD8E6", width: 4.5, row: 453, lines: [["MWR 3C", 453]] },
    { color: "#FF8C00", width: 9, row: 511, lines: [["Phy-Iter", 511]] }
], 1940, 2174, 2198);

// ---- panel 2
let p2 = makePanel(1421, 2328, [7.3, 174.2], [20, 40, 60, 80, 100, 120, 140, 160],
    [{ text: "Zenith BT 31 GHz, K" }], 237);
drawLine(p2, bt31Mwr3c, "#ADD8E6", 4.5);
drawLine(p2, bt31Mwr2c, "#0000FF", 3.5);
drawLine(p2, bt31PhyIter, "#FF8C00", 9.5);
drawLegend(p2, [
    { color: "#0000FF", width: 4, row: 1519, lines: [["MWR2C", 1519]] },
    { color: "#ADD8E6", width: 4.5, row: 1578, lines: [["MWR 3C (tan = rain flag)", 1578]] },
    { color: "#FF8C00", width: 9, row: 1636, lines: [["Phy-Iter", 1636]] }
], 1973, 2203, 2229);

// ---- panel 3
let p3 = makePanel(2546, 3453, [-0.11, 3.40], [0, 0.5, 1, 1.5, 2, 2.5, 3],
    [{ text: "Precip. Water Vapor, mm" }], 251);
drawLine(p3, pwvMwr3c, "#ADD8E6", 4.5);
drawLine(p3, pwvMwr2c, "#0000FF", 3.5);
drawLine(p3, pwvPhyIter, "#FF8C00", 8.5);
drawSpans(p3, mwr2cOnlySpans, "#D2B48C", 0.5);
drawSpans(p3, mwr3cOnlySpans, "#A52A2A", 0.5);
drawLegend(p3, [
    { color: "#0000FF", width: 4, row: 2659, lines: [["MWR 2C PWV", 2659]] },
    { color: "#ADD8E6", width: 4.5, row: 2716, lines: [["MWR 3C PWV", 2716]] },
    { color: "#FF8C00", width: 9, row: 2831, lines: [["Phy-Iter PWV", 2775], ["(tan = MWR 2C only)", 2831], ["(brown = MWR 3C only)", 2885]] }
], 1330, 1564, 1588);

// ---- panel 4
let p4 = makePanel(3671, 4578, [-0.105, 4.145], [0, 0.5, 1, 1.5, 2, 2.5, 3, 3.5, 4],
    [{ text: "log10 Liquid Water Path, log10(g/m" }, { text: "2", sup: true }, { text: ")", after: true }], 251);
// shaded uncertainty ranges
p4.data.append("path").datum(lwpPhyIterBand)
    .attr("d", d3.area().defined(d => d !== null).x(d => x(d[0])).y0(d => p4.y(d[1])).y1(d => p4.y(d[2])))
    .attr("fill", "#FF8C00").attr("opacity", 0.2);
p4.data.append("path").datum(lwpAdiabatic)
    .attr("d", d3.area().defined(d => d !== null).x(d => x(d[0])).y0(d => p4.y(d[1] - d[2])).y1(d => p4.y(d[1] + d[2])))
    .attr("fill", "#800080").attr("opacity", 0.2);
p4.data.selectAll(null).data(adiabaticSingles).enter().append("rect")
    .attr("x", d => x(d[0] - 1 / 120)).attr("width", d => x(d[0] + 1 / 120) - x(d[0] - 1 / 120))
    .attr("y", d => p4.y(d[3])).attr("height", d => p4.y(d[2]) - p4.y(d[3]))
    .attr("fill", "#800080").attr("opacity", 0.2);
p4.data.selectAll(null).data(phyIterSingles).enter().append("rect")
    .attr("x", d => x(d[0] - 1 / 120)).attr("width", d => x(d[0] + 1 / 120) - x(d[0] - 1 / 120))
    .attr("y", d => p4.y(d[1])).attr("height", d => p4.y(-0.2) - p4.y(d[1]))
    .attr("fill", "#FF8C00").attr("opacity", 0.2);
drawLine(p4, lwpMwr2c, "#0000FF", 3);
drawLine(p4, lwpMwr3c, "#ADD8E6", 4.5);
drawLine(p4, lwpPhyIter, "#FF8C00", 7.5);
drawLine(p4, lwpAdiabatic, "#800080", 3.5);
// x markers for single isolated values
function drawCross(p, pts, color) {
    p.data.selectAll(null).data(pts).enter().append("path")
        .attr("d", d => {
            let cx = x(d[0]), cy = p.y(d[1]), s = 10;
            return "M" + (cx - s) + "," + (cy - s) + "L" + (cx + s) + "," + (cy + s) +
                "M" + (cx - s) + "," + (cy + s) + "L" + (cx + s) + "," + (cy - s);
        })
        .attr("stroke", color).attr("stroke-width", 5).attr("fill", "none");
}
drawCross(p4, adiabaticSingles, "#800080");
drawCross(p4, phyIterSingles, "#FF8C00");
drawSpans(p4, graySpans, "#CCCCCC", 0.5);
drawSpans(p4, yellowSpans, "#FFFF00", 0.5);
drawSpans(p4, cyanSpans, "#00FFFF", 0.5);
drawLegend(p4, [
    { color: "#0000FF", width: 3.5, row: 3737, lines: [["MWR 2C LWP", 3737]] },
    { color: "#ADD8E6", width: 4.5, row: 3795, lines: [["MWR 3C LWP", 3795]] },
    { color: "#FF8C00", width: 8, row: 3852, lines: [["Phy-Iter LWP", 3852]] },
    { color: "#800080", width: 3.5, row: 3910, lines: [["Adiabatic LWP", 3910]] }
], 1423, 1658, 1683);

// ---- panel 5
let p5 = makePanel(4795, 5703, [-0.5, 11.5], [0, 2, 4, 6, 8, 10],
    [{ text: "MWR Phy Iter DQ Flag" }], 263);
let flagPoints = [];
dqFlagValues.forEach(function (v, i) {
    dqFlagMinutes[i].forEach(function (m) { flagPoints.push([3 + (m + 0.5) / 60, v]); });
});
p5.legend.selectAll(null).data(flagPoints).enter().append("ellipse")
    .attr("cx", d => x(d[0])).attr("cy", d => p5.y(d[1]))
    .attr("rx", 4).attr("ry", 5)
    .attr("fill", "#FF8C00");
</script>
</body>
</html>
